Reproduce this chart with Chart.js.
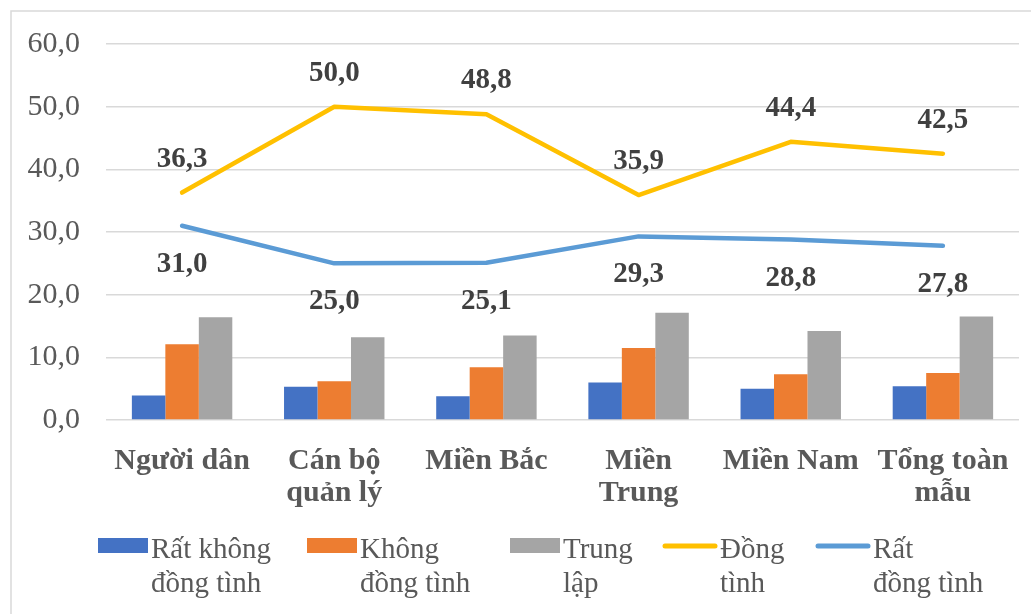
<!DOCTYPE html>
<html lang="vi">
<head>
<meta charset="utf-8">
<title>Mức độ đồng tình</title>
<script src="https://cdn.jsdelivr.net/npm/chart.js@4.4.1/dist/chart.umd.min.js"></script>
<style>
  html, body { margin: 0; padding: 0; background: #fff; }
  #wrap { width: 1031px; height: 614px; position: relative; }
</style>
</head>
<body>
<div id="wrap"><canvas id="myChart"></canvas></div>
<script>
// Nhóm khảo sát trên trục hoành
const labels = [
  'Người dân',
  ['Cán bộ', 'quản lý'],
  'Miền Bắc',
  ['Miền', 'Trung'],
  'Miền Nam',
  ['Tổng toàn', 'mẫu']
];

// Tỷ lệ (%) theo từng mức độ
const ratKhongDongTinh = [3.9, 5.3, 3.8, 6.0, 5.0, 5.4];
const khongDongTinh = [12.1, 6.2, 8.4, 11.5, 7.3, 7.5];
const trungLap = [16.4, 13.2, 13.5, 17.1, 14.2, 16.5];
const dongTinh = [36.3, 50.0, 48.8, 35.9, 44.4, 42.5];
const ratDongTinh = [31.0, 25.0, 25.1, 29.3, 28.8, 27.8];

// Chú giải hai dòng
const legendLabels = [
  ['Rất không', 'đồng tình'],
  ['Không', 'đồng tình'],
  ['Trung', 'lập'],
  ['Đồng', 'tình'],
  ['Rất', 'đồng tình']
];

const yTicks = [0, 10, 20, 30, 40, 50, 60];

const SERIF = '"Liberation Serif", "Times New Roman", serif';
const fmt = v => v.toFixed(1).replace('.', ',');

// Nhãn giá trị cho hai đường
const valueLabels = {
  id: 'valueLabels',
  afterDatasetsDraw(chart) {
    const ctx = chart.ctx;
    ctx.save();
    ctx.font = 'bold 29px ' + SERIF;
    ctx.fillStyle = '#404040';
    ctx.textAlign = 'center';
    ctx.textBaseline = 'alphabetic';
    chart.data.datasets.forEach((ds, i) => {
      if (ds.type !== 'line') return;
      const meta = chart.getDatasetMeta(i);
      meta.data.forEach((pt, j) => {
        ctx.fillText(fmt(ds.data[j]), pt.x, pt.y + ds.labelOffset);
      });
    });
    ctx.restore();
  }
};

// Chú giải vẽ tay với nhãn hai dòng, và khung viền
const legendStarts = [98, 307, 510, 663, 816];
const twoLineLegend = {
  id: 'twoLineLegend',
  afterDraw(chart) {
    const ctx = chart.ctx;
    ctx.save();

    ctx.strokeStyle = '#d9d9d9';
    ctx.lineWidth = 1.5;
    ctx.beginPath();
    ctx.moveTo(11, chart.height);
    ctx.lineTo(11, 11);
    ctx.lineTo(chart.width, 11);
    ctx.stroke();

    ctx.font = '29px ' + SERIF;
    ctx.textBaseline = 'alphabetic';
    ctx.textAlign = 'left';
    chart.data.datasets.forEach((ds, i) => {
      const x = legendStarts[i];
      let symW;
      if (ds.type === 'line') {
        symW = 54;
        ctx.strokeStyle = ds.borderColor;
        ctx.lineWidth = 5;
        ctx.lineCap = 'round';
        ctx.beginPath();
        ctx.moveTo(x + 2, 546);
        ctx.lineTo(x + symW - 2, 546);
        ctx.stroke();
      } else {
        symW = 50;
        ctx.fillStyle = ds.backgroundColor;
        ctx.fillRect(x, 538, symW, 15);
      }
      ctx.fillStyle = '#595959';
      legendLabels[i].forEach((t, k) => {
        ctx.fillText(t, x + symW + 3, 558 + k * 34);
      });
    });
    ctx.restore();
  }
};

const ctx = document.getElementById('myChart').getContext('2d');
const myChart = new Chart(ctx, {
  data: {
    labels: labels,
    datasets: [
      { type: 'bar', label: 'Rất không đồng tình', data: ratKhongDongTinh,
        backgroundColor: '#4472C4', order: 3 },
      { type: 'bar', label: 'Không đồng tình', data: khongDongTinh,
        backgroundColor: '#ED7D31', order: 3 },
      { type: 'bar', label: 'Trung lập', data: trungLap,
        backgroundColor: '#A5A5A5', order: 3 },
      { type: 'line', label: 'Đồng tình', data: dongTinh,
        borderColor: '#FFC000', borderWidth: 4.5, pointRadius: 0,
        borderCapStyle: 'round', borderJoinStyle: 'round',
        labelOffset: -26, order: 1 },
      { type: 'line', label: 'Rất đồng tình', data: ratDongTinh,
        borderColor: '#5B9BD5', borderWidth: 4.5, pointRadius: 0,
        borderCapStyle: 'round', borderJoinStyle: 'round',
        labelOffset: 46, order: 1 }
    ]
  },
  options: {
    responsive: true,
    maintainAspectRatio: false,
    animation: false,
    layout: { padding: { top: 37, right: 12, bottom: 104, left: 0 } },
    datasets: {
      bar: { barPercentage: 1, categoryPercentage: 0.66 }
    },
    plugins: {
      legend: { display: false },
      tooltip: { enabled: false }
    },
    scales: {
      x: {
        grid: { display: false },
        border: { display: false },
        ticks: {
          color: '#595959',
          padding: 17,
          maxRotation: 0,
          autoSkip: false,
          font: { family: SERIF, size: 30, weight: 'bold', lineHeight: 1.07 }
        },
        afterFit(scale) { scale.height = 90; }
      },
      y: {
        min: 0,
        max: 60,
        afterBuildTicks(scale) { scale.ticks = yTicks.map(v => ({ value: v })); },
        grid: { color: '#d9d9d9', lineWidth: 1.5, drawTicks: false },
        border: { display: false },
        ticks: {
          color: '#595959',
          padding: 26,
          font: { family: SERIF, size: 30 },
          callback: v => fmt(v)
        },
        afterFit(scale) { scale.width = 106; }
      }
    }
  },
  plugins: [valueLabels, twoLineLegend]
});
</script>
</body>
</html>
